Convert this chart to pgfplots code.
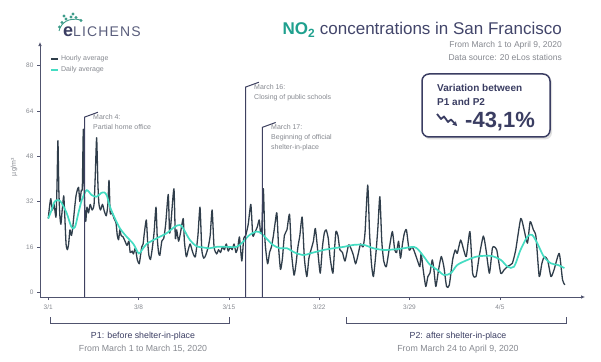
\documentclass[border=0pt]{standalone}
\usepackage{fontspec}
\setmainfont{Liberation Sans}
\usepackage{pgfplots}
\pgfplotsset{compat=1.18}
\usetikzlibrary{arrows.meta}
\definecolor{navy}{HTML}{3A3D62}
\definecolor{titlecol}{HTML}{42456A}
\definecolor{tealtitle}{HTML}{1FA08E}
\definecolor{greytext}{HTML}{85888F}
\definecolor{hourly}{HTML}{303E4B}
\definecolor{daily}{HTML}{44DCC2}
\definecolor{axiscol}{HTML}{50536E}
\definecolor{evcol}{HTML}{3E4160}
\definecolor{logocol}{HTML}{5A5E7C}
\definecolor{leaf}{HTML}{3E9C8A}
\begin{document}
\begin{tikzpicture}
\useasboundingbox (0,0) rectangle (601pt,361pt);
\begin{axis}[
  at={(40pt,64pt)}, anchor=south west,
  scale only axis, width=545pt, height=255pt,
  xmin=-0.64, xmax=41.6, ymin=-1.7, ymax=88.3,
  axis lines=left,
  axis line style={draw=axiscol, line width=0.7pt, -{Latex[length=4pt,width=3.5pt]}},
  xtick={0,7,14,21,28,35}, xticklabels={3/1,3/8,3/15,3/22,3/29,4/5},
  ytick={0,16,32,48,64,80},
  tick align=outside, major tick length=3pt,
  tick style={draw=axiscol, line width=0.5pt},
  ticklabel style={font=\fontsize{6.5}{7}\selectfont, text=greytext},
  xticklabel style={yshift=-1.5pt},
  /pgf/number format/assume math mode=true,
  clip=false,
  legend style={at={(0.018,0.955)}, anchor=north west, draw=none, fill=none,
    font=\fontsize{7}{8}\selectfont, text=greytext, inner sep=0pt, row sep=0pt},
  legend cell align=left,
  legend image code/.code={\draw[#1, line width=2pt] (0pt,0pt) -- (7pt,0pt);},
]
\addplot[hourly, line width=1.3pt, line join=round, smooth, tension=0.35] coordinates {
(0.00,26) (0.12,31) (0.20,33) (0.32,29) (0.45,31) (0.60,26.5) (0.68,38) (0.75,53.5) (0.82,36) (0.90,27) (0.98,24)
(1.08,29) (1.20,34) (1.28,27) (1.38,17) (1.48,15) (1.58,17) (1.68,22) (1.80,20) (1.90,23)
(2.05,30) (2.15,34) (2.25,36) (2.35,37) (2.45,32) (2.56,36) (2.64,37) (2.72,57.5) (2.80,33) (2.90,25)
(3.00,30) (3.12,28) (3.25,31) (3.40,29) (3.55,31) (3.65,42) (3.75,54.5) (3.85,38) (3.93,31)
(4.05,29) (4.20,31) (4.35,28.5) (4.50,27) (4.62,31) (4.71,39.5) (4.80,28) (4.95,28)
(5.10,26) (5.25,24.5) (5.35,20) (5.45,18.5) (5.55,22) (5.65,20) (5.80,19.5) (5.95,18)
(6.10,16.5) (6.25,18) (6.35,14) (6.50,14.5) (6.60,13.5) (6.75,15.5) (6.90,11.5)
(7.05,10) (7.15,13) (7.25,16) (7.35,17) (7.45,21) (7.60,25.5) (7.70,18) (7.80,13) (7.92,11.5)
(8.05,15) (8.20,21) (8.35,30) (8.45,19) (8.55,14) (8.65,13) (8.80,18) (8.95,19)
(9.10,24) (9.30,34.5) (9.40,21) (9.50,24) (9.74,36.5) (9.85,19) (9.95,22)
(10.10,18) (10.25,21) (10.46,26) (10.55,18) (10.70,12.5) (10.85,15)
(11.00,17) (11.20,14) (11.40,12.5) (11.60,20) (11.76,30) (11.90,15)
(12.05,12) (12.20,13) (12.40,16) (12.55,20) (12.70,29) (12.85,16)
(13.05,13.5) (13.20,15) (13.35,14) (13.50,16) (13.65,15) (13.80,17) (13.95,14.5)
(14.10,16) (14.25,15) (14.40,17) (14.55,14) (14.70,16) (14.82,19.5)
(15.00,11) (15.15,19) (15.30,20) (15.50,24) (15.70,31) (15.85,20)
(16.00,21) (16.20,23) (16.35,25.5) (16.45,21) (16.55,22) (16.67,36.5) (16.80,18)
(17.00,10) (17.15,14) (17.30,16) (17.45,20) (17.60,25) (17.72,28) (17.85,16)
(18.00,8) (18.15,12) (18.30,20) (18.50,22) (18.70,27.5) (18.85,14)
(19.05,6) (19.20,10) (19.35,16) (19.50,20) (19.68,26.5) (19.85,12)
(20.04,5.5) (20.20,12) (20.40,15.5) (20.55,18) (20.70,22.5) (20.90,14)
(21.08,6.7) (21.25,16) (21.40,21) (21.54,22) (21.70,19) (21.85,12)
(22.06,6.7) (22.20,16) (22.30,21.5) (22.45,20) (22.60,15) (22.80,14)
(23.00,11) (23.28,16.7) (23.50,15) (23.65,13) (23.82,10)
(24.00,13) (24.20,17) (24.40,16) (24.55,21) (24.76,37.8) (24.90,21)
(25.05,10) (25.20,5.5) (25.40,14) (25.55,23) (25.70,33.7) (25.85,18)
(26.00,11) (26.20,9) (26.45,16) (26.67,21.4) (26.85,15)
(27.00,14) (27.15,18) (27.30,12) (27.45,17) (27.60,20.8) (27.76,22) (27.97,14.9)
(28.18,16) (28.33,14.9) (28.60,11.4) (28.80,9) (28.90,13.7)
(29.06,7.9) (29.26,2) (29.42,5.5) (29.58,6.7) (29.76,11.4) (29.89,7.9)
(30.04,2) (30.25,7.9) (30.46,12.6) (30.66,9) (30.87,2)
(31.08,2.5) (31.34,11.4) (31.54,14.9) (31.70,13.7) (31.96,18.4)
(32.20,14.9) (32.40,12.6) (32.68,21.4) (32.89,6.7)
(33.15,5.5) (33.40,12.6) (33.72,19.8) (33.93,14.9)
(34.19,6.7) (34.42,15.5) (34.55,16) (34.76,14.9)
(35.07,6.7) (35.33,7.9) (35.59,9) (35.80,9.6) (35.97,10.2)
(36.23,14.9) (36.62,26) (36.88,22)
(37.14,17.3) (37.35,24.9) (37.60,22) (37.80,19.6)
(38.05,5.5) (38.25,10) (38.44,12.6) (38.70,11.4) (38.96,5.5)
(39.20,7.9) (39.60,13.7) (39.86,4.3) (40.04,2.6)
};
\addlegendentry{Hourly average}
\addplot[daily, line width=1.7pt, smooth, tension=0.5] coordinates {
(0,26) (0.26,29) (0.5,32) (0.8,32.5) (1.03,31.5) (1.42,28) (1.8,23) (2.07,23) (2.33,27.8)
(2.6,32.5) (2.97,36) (3.36,34.3) (3.75,33.7) (4.1,35) (4.35,35.2) (4.55,34) (4.78,30.2)
(5.17,26) (5.56,22.5) (6.07,19.6) (6.6,17) (7.0,13.7) (7.25,14.8) (7.62,17) (8.4,19)
(9.17,20.8) (9.8,23.1) (10.2,23.7) (10.46,22.5) (10.98,18.4) (11.5,16.2) (12.0,15.8)
(12.5,15.5) (13.05,16) (13.8,16) (14.6,16) (15.1,17.8) (15.6,20.2) (16.15,21.4)
(16.5,20.8) (16.9,19) (17.4,16.7) (17.96,15.5) (18.5,15.5) (19.1,14) (19.78,13.1)
(20.3,13.7) (20.8,14.3) (21.34,14.9) (22.1,15.5) (22.9,16) (23.7,16.7) (24.45,16.7)
(25.2,15.5) (26.0,14.9) (26.8,15.1) (27.55,15.5) (28.33,16) (28.7,14.9) (29.1,12.6)
(29.6,9.6) (30.15,7.9) (30.66,6.1) (31.2,6.7) (31.7,9.6) (32.5,11.4) (33.25,12.6)
(34.3,12.8) (35.07,11.4) (35.6,9) (36.1,9) (36.6,14.9) (37.14,19.6) (37.5,20.2)
(37.9,17.3) (38.4,12.6) (38.95,10.2) (39.5,9.6) (40.0,8.5)
};
\addlegendentry{Daily average}
% event lines
\draw[evcol, line width=1pt] (axis cs:2.82,-1.7) -- (axis cs:2.82,61.8) -- ++(5pt,0);
\draw[evcol, line width=1pt] (axis cs:15.3,-1.7) -- (axis cs:15.3,72.4) -- ++(5pt,0);
\draw[evcol, line width=1pt] (axis cs:16.6,-1.7) -- (axis cs:16.6,58.2) -- ++(5pt,0);
\end{axis}
\begin{scope}[x=1pt,y=-1pt,yshift=361pt]
% logo
\draw[leaf, line width=0.9pt] (59,31) .. controls (61,23) and (68,17) .. (81,20);
\foreach \p in {(59.5,27),(62,22.5),(66,19),(71,17),(76,17.5),(81,20.5),(64,16),(73,14)}
  \fill[leaf] \p circle (1.6);
\node[anchor=base west, inner sep=0] at (63,36.7) {\textcolor{navy}{\bfseries\fontsize{18}{20}\selectfont e}\textcolor{logocol}{\fontsize{14}{16}\selectfont\addfontfeature{LetterSpace=8}LICHENS}};
% title
\node[anchor=base east, inner sep=0] at (562,35) {\fontsize{17}{20}\selectfont\textcolor{tealtitle}{\bfseries NO\textsubscript{2}} \textcolor{titlecol}{concentrations in San Francisco}};
\node[anchor=base east, inner sep=0, text=greytext, font=\fontsize{8.5}{10}\selectfont] at (562,47.5) {From March 1 to April 9, 2020};
\node[anchor=base east, inner sep=0, text=greytext, font=\fontsize{8.5}{10}\selectfont] at (562,60.5) {Data source: 20 eLos stations};
% y label
\node[rotate=90, text=greytext, font=\fontsize{7}{8}\selectfont] at (14,167) {µg/m³};
% annotations
\node[anchor=west, inner sep=0, text=greytext, font=\fontsize{7}{8}\selectfont] at (93,117.5) {March 4:};
\node[anchor=west, inner sep=0, text=greytext, font=\fontsize{7}{8}\selectfont] at (93,127.5) {Partial home office};
\node[anchor=west, inner sep=0, text=greytext, font=\fontsize{7}{8}\selectfont] at (254,87.5) {March 16:};
\node[anchor=west, inner sep=0, text=greytext, font=\fontsize{7}{8}\selectfont] at (254,97.5) {Closing of public schools};
\node[anchor=west, inner sep=0, text=greytext, font=\fontsize{7}{8}\selectfont] at (271,127.5) {March 17:};
\node[anchor=west, inner sep=0, text=greytext, font=\fontsize{7}{8}\selectfont] at (271,137.5) {Beginning of official};
\node[anchor=west, inner sep=0, text=greytext, font=\fontsize{7}{8}\selectfont] at (271,147.5) {shelter-in-place};
% box
\fill[black!12, rounded corners=7pt] (423.5,76) rectangle (552,139.5);
\draw[navy, line width=1.5pt, fill=white, rounded corners=7pt] (422,74) rectangle (550,137);
\node[anchor=base west, inner sep=0, text=navy, font=\bfseries\fontsize{10}{12}\selectfont] at (437,91.5) {Variation between};
\node[anchor=base west, inner sep=0, text=navy, font=\bfseries\fontsize{10}{12}\selectfont] at (437,105.5) {P1 and P2};
\node[anchor=base west, inner sep=0, text=navy, font=\bfseries\fontsize{22}{26}\selectfont] at (465,128) {-43,1\%};
\draw[navy, line width=1.8pt, line join=round, -{Stealth[length=4.5pt,width=5pt]}] (437,114) -- (441,119) -- (444,116.5) -- (448,122) -- (451,119.5) -- (457,126);
% brackets
\draw[axiscol, line width=0.9pt] (50,317) -- (50,323.5) -- (229,323.5) -- (229,317);
\draw[axiscol, line width=0.9pt] (346,317) -- (346,323.5) -- (566,323.5) -- (566,317);
\node[anchor=base, inner sep=0, text=navy, font=\fontsize{8.8}{10}\selectfont] at (143,338) {P1: before shelter-in-place};
\node[anchor=base, inner sep=0, text=greytext, font=\fontsize{8.8}{10}\selectfont] at (143,351) {From March 1 to March 15, 2020};
\node[anchor=base, inner sep=0, text=navy, font=\fontsize{8.8}{10}\selectfont] at (458,338) {P2: after shelter-in-place};
\node[anchor=base, inner sep=0, text=greytext, font=\fontsize{8.8}{10}\selectfont] at (458,351) {From March 24 to April 9, 2020};
\end{scope}
\end{tikzpicture}
\end{document}
